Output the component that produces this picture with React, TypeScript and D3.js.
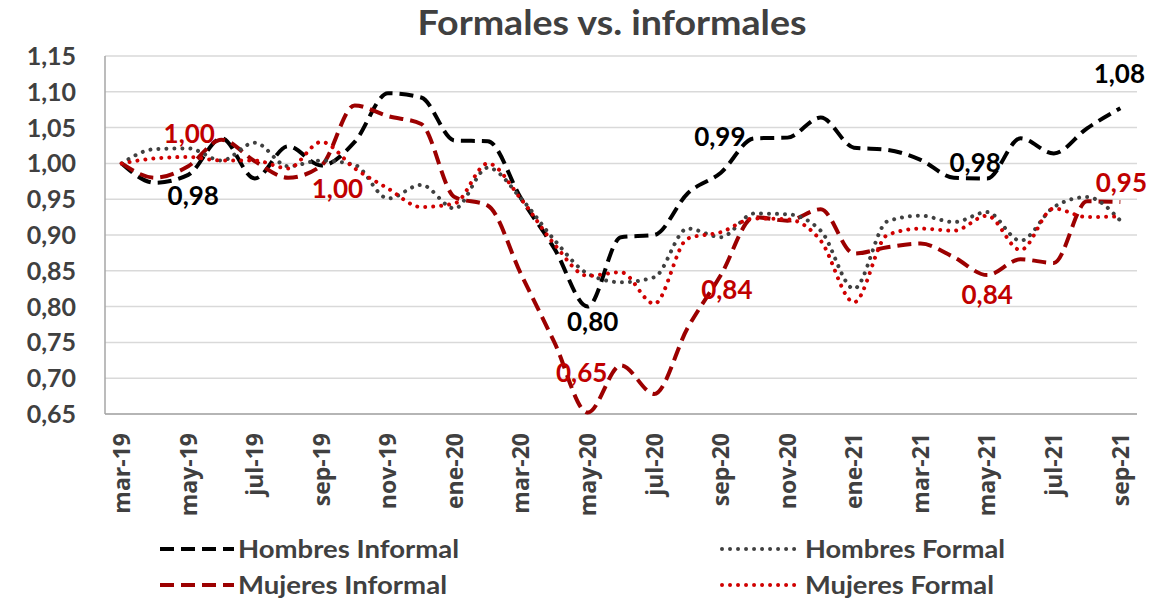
import * as d3 from 'd3';
import { useEffect } from 'react';

const months = [
	'mar-19', 'abr-19', 'may-19', 'jun-19', 'jul-19', 'ago-19', 'sep-19', 'oct-19', 'nov-19', 'dic-19',
	'ene-20', 'feb-20', 'mar-20', 'abr-20', 'may-20', 'jun-20', 'jul-20', 'ago-20', 'sep-20', 'oct-20',
	'nov-20', 'dic-20', 'ene-21', 'feb-21', 'mar-21', 'abr-21', 'may-21', 'jun-21', 'jul-21', 'ago-21', 'sep-21',
];

const hombresInformal = [
	1.00, 0.973, 0.984, 1.035, 0.979, 1.024, 0.997, 1.03, 1.098, 1.092,
	1.032, 1.031, 0.951, 0.881, 0.80, 0.897, 0.90, 0.958, 0.987, 1.035,
	1.036, 1.064, 1.022, 1.019, 1.005, 0.98, 0.979, 1.035, 1.014, 1.049, 1.077,
];

const mujeresInformal = [
	1.00, 0.98, 0.996, 1.033, 1.003, 0.98, 0.997, 1.081, 1.066, 1.055,
	0.953, 0.941, 0.845, 0.75, 0.652, 0.718, 0.678, 0.77, 0.844, 0.925,
	0.92, 0.936, 0.874, 0.883, 0.888, 0.869, 0.844, 0.866, 0.861, 0.947, 0.946,
];

const hombresFormal = [
	1.00, 1.02, 1.021, 1.004, 1.029, 0.996, 1.004, 0.998, 0.951, 0.97,
	0.937, 0.994, 0.951, 0.893, 0.846, 0.834, 0.841, 0.909, 0.897, 0.93,
	0.929, 0.906, 0.825, 0.919, 0.927, 0.918, 0.932, 0.892, 0.939, 0.953, 0.92,
];

const mujeresFormal = [
	1.00, 1.007, 1.009, 1.004, 1.004, 0.993, 1.03, 0.993, 0.965, 0.939,
	0.944, 1.00, 0.95, 0.887, 0.843, 0.848, 0.804, 0.895, 0.904, 0.923,
	0.922, 0.892, 0.806, 0.90, 0.909, 0.906, 0.927, 0.879, 0.937, 0.925, 0.926,
];

const yTicks = [0.65, 0.70, 0.75, 0.80, 0.85, 0.90, 0.95, 1.00, 1.05, 1.10, 1.15];

const series = [
	{ name: 'Hombres Informal', values: hombresInformal, color: '#000000', dash: '14 7', cap: 'butt' },
	{ name: 'Mujeres Informal', values: mujeresInformal, color: '#9c0000', dash: '14 7', cap: 'butt' },
	{ name: 'Hombres Formal', values: hombresFormal, color: '#404040', dash: '0.01 8', cap: 'round' },
	{ name: 'Mujeres Formal', values: mujeresFormal, color: '#d00000', dash: '0.01 8', cap: 'round' },
];

// data labels: series, month index, offset of the label centre
const labels = [
	{ s: 0, i: 2, dx: 5, dy: 21 },
	{ s: 0, i: 14, dx: 5, dy: 15 },
	{ s: 0, i: 18, dx: -1, dy: -36 },
	{ s: 0, i: 26, dx: -12, dy: -16 },
	{ s: 0, i: 30, dx: -1, dy: -35 },
	{ s: 1, i: 2, dx: 1, dy: -33 },
	{ s: 1, i: 6, dx: 16, dy: 23 },
	{ s: 1, i: 14, dx: -6, dy: -40 },
	{ s: 1, i: 18, dx: 6, dy: 15 },
	{ s: 1, i: 26, dx: 0, dy: 20 },
	{ s: 1, i: 30, dx: 1, dy: -19 },
];

const font = 'Lato, "Open Sans", sans-serif';
const fmt = (v) => v.toFixed(2).replace('.', ',');

export default function App() {

	useEffect(() => { document.body.style.margin = '0'; }, []);

	const width = 1171, height = 600;
	const x = d3.scaleBand().domain(months).range([105, 1137]);
	const y = d3.scaleLinear().domain([0.65, 1.15]).range([414, 56]);
	const cx = (i) => x(months[i]) + x.bandwidth() / 2;

	const line = d3.line()
	.x((d, i) => cx(i))
	.y(d => y(d))
	.curve(d3.curveMonotoneX);

	const legend = [
		{ s: 0, x: 160, y: 549, len: 74, tx: 238, tl: 221 },
		{ s: 2, x: 722, y: 549, len: 78, tx: 805, tl: 200 },
		{ s: 1, x: 160, y: 585, len: 74, tx: 238, tl: 209 },
		{ s: 3, x: 722, y: 585, len: 78, tx: 805, tl: 189 },
	];

	return (
		<svg width={width} height={height} style={{ display: 'block', background: '#fff' }}>
			<text x={612} y={35} textAnchor='middle' fontFamily={font} fontWeight='bold' fontSize={35}
				fill='#404040' textLength={389} lengthAdjust='spacingAndGlyphs'>
				Formales vs. informales
			</text>

			{yTicks.map(t => (
				<g key={t}>
					<line x1={105} x2={1137} y1={y(t)} y2={y(t)} stroke='#d9d9d9' strokeWidth={1.5} />
					<text x={76} y={y(t)} dy='0.36em' textAnchor='end' fontFamily={font} fontWeight='bold'
						fontSize={25} fill='#404040'>{fmt(t)}</text>
				</g>
			))}
			<line x1={105} x2={105} y1={56} y2={414} stroke='#a6a6a6' strokeWidth={1.5} />
			<line x1={105} x2={1137} y1={414} y2={414} stroke='#a6a6a6' strokeWidth={1.5} />

			{months.map((m, i) => i % 2 === 0 && (
				<text key={m} transform={`translate(${cx(i)},433) rotate(-90)`} dy='0.36em' textAnchor='end'
					fontFamily='"Open Sans", sans-serif' fontWeight='bold' fontSize={23} fill='#404040'>{m}</text>
			))}

			{series.map(s => (
				<path key={s.name} d={line(s.values)} fill='none' stroke={s.color} strokeWidth={4}
					strokeDasharray={s.dash} strokeLinecap={s.cap} strokeLinejoin='round' />
			))}

			{labels.map((l, k) => {
				const v = series[l.s].values[l.i];
				return (
					<text key={k} x={cx(l.i) + l.dx} y={y(v) + l.dy} dy='0.36em' textAnchor='middle'
						fontFamily={font} fontWeight='bold' fontSize={26}
						fill={l.s === 0 ? '#000000' : '#c00000'}>{fmt(v)}</text>
				);
			})}

			{legend.map(l => {
				const s = series[l.s];
				return (
					<g key={s.name}>
						<line x1={l.x} x2={l.x + l.len} y1={l.y} y2={l.y} stroke={s.color} strokeWidth={4}
							strokeDasharray={s.dash} strokeLinecap={s.cap} />
						<text x={l.tx} y={l.y} dy='0.36em' fontFamily={font} fontWeight='bold' fontSize={25}
							fill='#404040' textLength={l.tl} lengthAdjust='spacingAndGlyphs'>{s.name}</text>
					</g>
				);
			})}
		</svg>
	);
}
